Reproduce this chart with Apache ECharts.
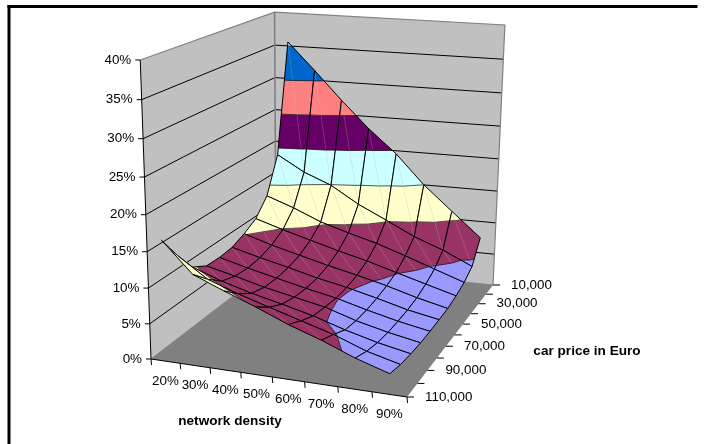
<!DOCTYPE html>
<html>
<head>
<meta charset="utf-8">
<style>html,body{margin:0;padding:0;background:#fff}#chart{width:707px;height:444px}</style>
<script src="https://cdn.jsdelivr.net/npm/echarts@6/dist/echarts.min.js"></script>
</head>
<body>
<div id="chart"></div>
<script>
// Axis categories
const densities = ['20%', '30%', '40%', '50%', '60%', '70%', '80%', '90%'];
const prices = ['10,000', '20,000', '30,000', '40,000', '50,000', '60,000', '70,000', '80,000', '90,000', '100,000', '110,000'];
const shownPrices = ['10,000', '30,000', '50,000', '70,000', '90,000', '110,000'];
const zTicks = [0, 5, 10, 15, 20, 25, 30, 35, 40];

// Surface height in percent, one row per car price, one value per density
const at10k  = [35.6, 31.5, 27.2, 23.1, 19.5, 15.0, 11.2, 7.4];
const at20k  = [19.0, 16.6, 14.9, 12.3, 10.2, 8.0, 6.3, 4.2];
const at30k  = [13.6, 12.1, 10.3, 9.0, 7.8, 6.3, 4.7, 3.1];
const at40k  = [11.2, 9.9, 8.7, 7.5, 6.4, 5.1, 3.8, 2.5];
const at50k  = [10.1, 8.8, 7.7, 6.6, 5.6, 4.5, 3.2, 2.1];
const at60k  = [9.3, 8.2, 7.2, 6.1, 5.2, 4.1, 2.9, 2.0];
const at70k  = [9.1, 8.0, 7.0, 6.0, 5.1, 3.9, 2.8, 1.9];
const at80k  = [9.2, 8.2, 7.1, 6.2, 5.3, 3.9, 2.8, 1.9];
const at90k  = [10.4, 8.9, 7.7, 6.7, 5.6, 4.2, 3.0, 2.05];
const at100k = [13.4, 10.6, 9.1, 7.8, 6.5, 5.2, 3.5, 2.3];
const at110k = [16.8, 12.7, 11.0, 9.4, 7.6, 6.1, 4.3, 2.85];
const heights = [at10k, at20k, at30k, at40k, at50k, at60k, at70k, at80k, at90k, at100k, at110k];

// One fill per 5% band, lowest first
const bandColors = ['#9999FF', '#993366', '#FFFFCC', '#CCFFFF', '#660066', '#FF8080', '#0066CC', '#CCCCFF'];

const FONT = '"Liberation Sans", Arial, sans-serif';

// Perspective camera: floor corners, vanishing point of the verticals, height scale
const floorBack = [276, 263], floorRight = [493, 285], floorFront = [407, 397], floorLeft = [151, 359];
const vanish = [300, 4500];
const heightScale = -0.0559 / 40;
const depthU = -0.038, depthV = -0.17;

const sx = floorBack[0] - floorRight[0] + floorFront[0] - floorLeft[0];
const sy = floorBack[1] - floorRight[1] + floorFront[1] - floorLeft[1];
const d1x = floorRight[0] - floorFront[0], d2x = floorLeft[0] - floorFront[0];
const d1y = floorRight[1] - floorFront[1], d2y = floorLeft[1] - floorFront[1];
const den = d1x * d2y - d2x * d1y;
const g = (sx * d2y - d2x * sy) / den;
const h = (d1x * sy - sx * d1y) / den;
const ha = floorRight[0] - floorBack[0] + g * floorRight[0];
const hb = floorLeft[0] - floorBack[0] + h * floorLeft[0];
const hd = floorRight[1] - floorBack[1] + g * floorRight[1];
const he = floorLeft[1] - floorBack[1] + h * floorLeft[1];

// u runs along density, v along price, z is the height in percent
function project(u, v, z) {
  const w = 1 + g * u + h * v;
  const px = (ha * u + hb * v + floorBack[0]) / w;
  const py = (hd * u + he * v + floorBack[1]) / w;
  const t = z * heightScale;
  const s = t / (1 + depthU * u + depthV * v + t);
  return [px + (vanish[0] - px) * s, py + (vanish[1] - py) * s];
}

const zMax = zTicks[zTicks.length - 1];
const uOf = i => echarts.number.linearMap(i + 0.5, [0, densities.length], [0, 1]);
const vOf = j => echarts.number.linearMap(j, [0, prices.length - 1], [0, 1]);

function line(points, stroke, lineWidth) {
  return { type: 'polyline', shape: { points }, style: { stroke, lineWidth, fill: 'none' }, silent: true };
}
function label(text, x, y, align, font) {
  return { type: 'text', style: { text, x, y, fill: '#000', font: font || ('13.4px ' + FONT), textAlign: align, textVerticalAlign: 'middle' }, silent: true };
}

// Walls, floor, gridlines, ticks and their labels
function renderFrame() {
  const kids = [];
  const poly = (points, fill) => kids.push({ type: 'polygon', shape: { points }, style: { fill }, silent: true });
  poly([project(0, 0, 0), project(0, 1, 0), project(0, 1, zMax), project(0, 0, zMax)], '#C0C0C0');
  poly([project(0, 0, 0), project(1, 0, 0), project(1, 0, zMax), project(0, 0, zMax)], '#C0C0C0');
  poly([project(0, 0, 0), project(1, 0, 0), project(1, 1, 0), project(0, 1, 0)], '#808080');
  zTicks.forEach(z => {
    if (z > 0 && z < zMax) {
      kids.push(line([project(0, 1, z), project(0, 0, z), project(1, 0, z)], '#000', 1));
    }
    const p = project(0, 1, z);
    kids.push(line([[p[0] - 5, p[1]], p], '#000', 1));
    kids.push(label(z + '%', p[0] - 9, p[1], 'right'));
  });
  kids.push(line([project(0, 1, zMax), project(0, 0, zMax), project(1, 0, zMax), project(1, 0, 0)], '#808080', 1.2));
  kids.push(line([project(0, 0, 0), project(0, 0, zMax)], '#808080', 1.6));
  kids.push(line([project(0, 1, 0), project(0, 0, 0), project(1, 0, 0)], '#808080', 1));
  kids.push(line([project(0, 1, 0), project(0, 1, zMax)], '#000', 1));
  kids.push(line([project(0, 1, 0), project(1, 1, 0)], '#000', 1));
  // Density axis: ticks sit between categories, labels in the cell centres
  for (let i = 0; i <= densities.length; i++) {
    const p = project(i / densities.length, 1, 0);
    kids.push(line([p, [p[0] + 0.5, p[1] + 6]], '#000', 1));
  }
  densities.forEach((name, i) => {
    const p = project(uOf(i), 1, 0);
    kids.push(label(name, p[0], p[1] + 20, 'center'));
  });
  // Price axis: a tick per category, a label on every other one
  prices.forEach((name, j) => {
    const p = project(1, vOf(j), 0);
    kids.push(line([p, [p[0] + 7, p[1]]], '#000', 1));
    if (shownPrices.includes(name)) kids.push(label(name, p[0] + 18, p[1], 'left'));
  });
  kids.push(label('network density', 230, 421, 'center', 'bold 13.6px ' + FONT));
  kids.push(label('car price in Euro', 587, 351, 'center', 'bold 13.6px ' + FONT));
  return { type: 'group', children: kids };
}

// Keeps the part of a triangle between two height levels
function clipBand(tri, lo, hi) {
  const clip = (pts, keep, level) => {
    const out = [];
    pts.forEach((a, k) => {
      const b = pts[(k + 1) % pts.length];
      if (keep(a[2])) out.push(a);
      if (keep(a[2]) !== keep(b[2])) {
        const f = (level - a[2]) / (b[2] - a[2]);
        out.push([a[0] + (b[0] - a[0]) * f, a[1] + (b[1] - a[1]) * f, level]);
      }
    });
    return out;
  };
  return clip(clip(tri, z => z >= lo, lo), z => z <= hi, hi);
}

// Where a triangle is cut by a height level, if anywhere
function contourSegment(tri, level) {
  const pts = [];
  tri.forEach((a, k) => {
    const b = tri[(k + 1) % 3];
    if ((a[2] < level) !== (b[2] < level)) {
      const f = (level - a[2]) / (b[2] - a[2]);
      pts.push(project(a[0] + (b[0] - a[0]) * f, a[1] + (b[1] - a[1]) * f, level));
    }
  });
  return pts.length === 2 ? pts : null;
}

// One mesh cell: two triangles split into bands, contours, faint seam, black mesh
function renderCell(params, api) {
  const i = api.value(0), j = api.value(1);
  const node = (a, b) => [uOf(a), vOf(b), heights[b][a]];
  const p00 = node(i, j), p10 = node(i + 1, j), p11 = node(i + 1, j + 1), p01 = node(i, j + 1);
  const xy = p => project(p[0], p[1], p[2]);
  const kids = [];
  [[p00, p10, p11], [p00, p11, p01]].forEach(tri => {
    bandColors.forEach((fill, b) => {
      const part = clipBand(tri, zTicks[b], zTicks[b + 1]);
      if (part.length > 2) {
        kids.push({ type: 'polygon', shape: { points: part.map(xy) }, style: { fill, stroke: fill, lineWidth: 0.4 }, silent: true });
      }
    });
  });
  kids.push(line([xy(p00), xy(p11)], 'rgba(185,185,185,0.3)', 0.7));
  [[p00, p10, p11], [p00, p11, p01]].forEach(tri => {
    zTicks.slice(1, -1).forEach(level => {
      const seg = contourSegment(tri, level);
      if (seg) kids.push(line(seg, '#111', 0.7));
    });
  });
  kids.push(line([xy(p00), xy(p10), xy(p11), xy(p01), xy(p00)], '#000', 1));
  return { type: 'group', children: kids };
}

// Cells are listed back to front so nearer ones paint over farther ones
const cells = [];
for (let j = 0; j < prices.length - 1; j++) {
  for (let i = 0; i < densities.length - 1; i++) cells.push([i, j]);
}

const chart = echarts.init(document.getElementById('chart'), null, { renderer: 'canvas' });
chart.setOption({
  animation: false,
  backgroundColor: '#fff',
  graphic: [
    { type: 'rect', shape: { x: 7.5, y: 5, width: 690, height: 3 }, style: { fill: '#000' }, silent: true },
    { type: 'rect', shape: { x: 7.5, y: 5, width: 3, height: 439 }, style: { fill: '#000' }, silent: true }
  ],
  series: [
    { type: 'custom', coordinateSystem: 'none', silent: true, data: [[0]], renderItem: renderFrame, z: 1 },
    { type: 'custom', coordinateSystem: 'none', silent: true, data: cells, renderItem: renderCell, z: 2 }
  ]
});
</script>
</body>
</html>
